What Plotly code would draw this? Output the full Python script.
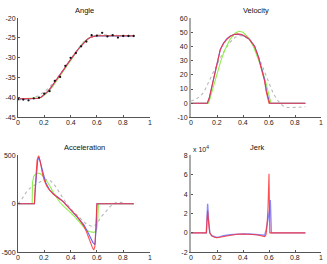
import plotly.graph_objects as go

# ---------------- data ----------------
x_ticks = [0, 0.2, 0.4, 0.6, 0.8, 1]
x_tick_labels = ["0", "0.2", "0.4", "0.6", "0.8", "1"]

# Angle: measured points (black dots)
t_meas = [0, 0.04, 0.08, 0.12, 0.16, 0.20, 0.24, 0.28, 0.32, 0.36, 0.40, 0.44,
          0.48, 0.52, 0.56, 0.60, 0.64, 0.68, 0.72, 0.76, 0.80, 0.84, 0.88]
angle_meas = [-40.4, -40.5, -40.7, -40.2, -40.0, -39.0, -38.4, -35.8, -34.8, -32.0,
              -30.0, -28.8, -27.1, -25.9, -24.3, -24.4, -23.7, -24.6, -24.3, -24.9,
              -24.5, -24.5, -24.5]

t_ang = [0, 0.125, 0.15, 0.175, 0.2, 0.225, 0.25, 0.275, 0.3, 0.325, 0.35, 0.375,
         0.4, 0.425, 0.45, 0.475, 0.5, 0.525, 0.55, 0.575, 0.6, 0.88]
angle_red = [-40.3, -40.3, -40.2, -39.9, -39.3, -38.5, -37.5, -36.4, -35.25, -34.05,
             -32.85, -31.6, -30.4, -29.25, -28.15, -27.15, -26.2, -25.4, -24.85,
             -24.55, -24.45, -24.45]
angle_blue = [-40.35, -40.35, -40.25, -39.9, -39.3, -38.5, -37.5, -36.4, -35.2, -34.0,
              -32.8, -31.6, -30.4, -29.25, -28.15, -27.15, -26.2, -25.4, -24.85,
              -24.55, -24.5, -24.5]
t_ang_g = [0, 0.135, 0.16, 0.185, 0.21, 0.235, 0.26, 0.285, 0.31, 0.335, 0.36, 0.385,
           0.41, 0.435, 0.46, 0.485, 0.51, 0.535, 0.56, 0.585, 0.615, 0.88]
angle_green = [-40.3, -40.3, -40.15, -39.8, -39.2, -38.4, -37.4, -36.2, -35.0, -33.8,
               -32.5, -31.2, -29.9, -28.7, -27.6, -26.6, -25.75, -25.1, -24.7,
               -24.5, -24.45, -24.45]
t_ang_d = [0, 0.05, 0.1, 0.15, 0.2, 0.25, 0.3, 0.35, 0.4, 0.45, 0.5, 0.55, 0.6,
           0.65, 0.7, 0.75, 0.8, 0.88]
angle_dot = [-40.6, -40.5, -40.3, -39.6, -38.6, -37.0, -35.0, -32.7, -30.3, -28.0,
             -26.0, -24.8, -24.3, -24.2, -24.3, -24.4, -24.45, -24.5]

# Velocity
t_vel_r = [0, 0.12, 0.125, 0.14, 0.15, 0.16, 0.177, 0.2, 0.225, 0.25, 0.275, 0.3,
           0.33, 0.36, 0.39, 0.42, 0.45, 0.489, 0.5, 0.52, 0.54, 0.553, 0.565,
           0.58, 0.59, 0.6, 0.88]
vel_red = [0, 0, 0, 3.5, 7.5, 12, 20, 29, 37.5, 42, 45, 47, 48.4, 48.9, 48.5, 47,
           45, 40, 37, 32, 24.5, 20, 16, 7.5, 3, 0, 0]
t_vel_b = [0, 0.12, 0.125, 0.14, 0.15, 0.16, 0.177, 0.2, 0.225, 0.25, 0.275, 0.3,
           0.33, 0.355, 0.39, 0.42, 0.45, 0.489, 0.5, 0.52, 0.54, 0.553, 0.565,
           0.58, 0.595, 0.605, 0.88]
vel_blue = [0, 0, 0, 3.5, 7.5, 12.5, 20.5, 29.5, 38, 42.5, 45.3, 47.2, 48.4, 48.6,
            48.3, 46.9, 45, 40.3, 37.5, 32.5, 25.5, 21, 17, 9, 3, 0, 0]
t_vel_g = [0, 0.13, 0.135, 0.15, 0.17, 0.2, 0.23, 0.26, 0.3, 0.34, 0.37, 0.4, 0.44,
           0.48, 0.52, 0.55, 0.58, 0.6, 0.615, 0.88]
vel_green = [0, 0, 0, 4.5, 11, 21, 30, 37.5, 45, 49.5, 50.7, 50, 46.5, 40, 31, 23,
             13, 5.5, 0, 0]
t_vel_d = [0, 0.03, 0.067, 0.1, 0.118, 0.15, 0.169, 0.2, 0.22, 0.26, 0.297, 0.34,
           0.374, 0.41, 0.451, 0.49, 0.528, 0.57, 0.605, 0.63, 0.656, 0.68, 0.708,
           0.74, 0.77, 0.8, 0.84, 0.88]
vel_dot = [1.6, 2.5, 4.6, 8, 11.5, 17.5, 21.9, 28, 31, 37.5, 42.7, 46.5, 47.7, 47,
           45, 39.5, 31, 20.5, 12.7, 7.5, 3.4, 0.5, -1.9, -2.9, -3.1, -3, -2.7, -2.5]

# Acceleration
t_acc_r = [0, 0.125, 0.13, 0.135, 0.145, 0.157, 0.17, 0.187, 0.2, 0.218, 0.24, 0.268,
           0.3, 0.318, 0.35, 0.369, 0.4, 0.42, 0.45, 0.47, 0.5, 0.52, 0.54, 0.553,
           0.565, 0.576, 0.585, 0.592, 0.597, 0.6, 0.88]
acc_red = [0, 0, 150, 300, 450, 500, 430, 303, 240, 185, 140, 101, 65, 50, 15, -17,
           -60, -85, -130, -169, -230, -287, -350, -404, -450, -478, -440, -220, 0,
           0, 0]
t_acc_b = [0, 0.125, 0.13, 0.14, 0.15, 0.16, 0.175, 0.19, 0.21, 0.24, 0.27, 0.3, 0.33,
           0.37, 0.4, 0.44, 0.47, 0.5, 0.53, 0.555, 0.57, 0.585, 0.595, 0.6, 0.88]
acc_blue = [0, 0, 120, 330, 450, 480, 400, 300, 220, 145, 100, 70, 40, -15, -60, -115,
            -160, -215, -290, -360, -400, -420, -250, 0, 0]
t_acc_g = [0, 0.108, 0.11, 0.12, 0.135, 0.15, 0.17, 0.19, 0.218, 0.24, 0.268, 0.3,
           0.318, 0.35, 0.369, 0.4, 0.42, 0.45, 0.47, 0.5, 0.52, 0.54, 0.557, 0.575,
           0.59, 0.6, 0.607, 0.612, 0.88]
acc_green = [0, 0, 220, 285, 310, 318, 310, 285, 235, 190, 118, 50, 16, -30, -51, -92,
             -118, -165, -202, -245, -270, -285, -293, -295, -286, -250, -150, 0, 0]
t_acc_d = [0, 0.03, 0.061, 0.09, 0.116, 0.15, 0.18, 0.218, 0.25, 0.28, 0.32, 0.37,
           0.42, 0.47, 0.52, 0.56, 0.6, 0.622, 0.65, 0.673, 0.7, 0.724, 0.75, 0.78,
           0.82, 0.88]
acc_dot = [0, 50, 117, 160, 185, 215, 235, 250, 235, 190, 100, 0, -80, -150, -210,
           -232, -215, -152, -105, -68, -30, 0, 15, 15, 5, 0]

# Jerk (x 10^4)
t_jerk_r = [0, 0.118, 0.122, 0.128, 0.134, 0.144, 0.16, 0.18, 0.2, 0.22, 0.25, 0.297,
            0.35, 0.4, 0.45, 0.503, 0.53, 0.554, 0.567, 0.577, 0.585, 0.592, 0.597,
            0.6, 0.603, 0.606, 0.88]
jerk_red = [0, 0, 1.0, 2.3, 1.2, 0, -0.3, -0.45, -0.5, -0.45, -0.33, -0.22, -0.15,
            -0.12, -0.14, -0.2, -0.27, -0.35, -0.38, -0.2, 0.8, 2.5, 4.8, 6.1, 3.0,
            0, 0]
t_jerk_b = [0, 0.118, 0.122, 0.128, 0.134, 0.145, 0.16, 0.18, 0.2, 0.22, 0.25, 0.3,
            0.35, 0.4, 0.45, 0.5, 0.53, 0.555, 0.567, 0.578, 0.59, 0.6, 0.606, 0.61,
            0.614, 0.618, 0.88]
jerk_blue = [0, 0, 1.2, 3.0, 1.5, 0, -0.3, -0.42, -0.48, -0.42, -0.3, -0.2, -0.13,
             -0.1, -0.12, -0.18, -0.25, -0.3, -0.25, 0.3, 1.3, 1.8, 2.5, 3.4, 1.5, 0,
             0]

y_ticks_angle = [-45, -40, -35, -30, -25, -20]
y_ticks_vel = [-10, 0, 10, 20, 30, 40, 50, 60]
y_ticks_acc = [-500, 0, 500]
y_ticks_jerk = [-2, 0, 2, 4, 6, 8]

# ---------------- styling ----------------
RED = "#ff3030"
BLUE = "#6464ff"
GREEN = "#90f050"
GRAY = "#b8b8b8"
FONT = "Liberation Sans, Arial, sans-serif"
W, H = 327, 264

fig = go.Figure()


def line(x, y, color, ax, dash="solid", width=1.1, opacity=1.0):
    fig.add_trace(go.Scatter(x=x, y=y, mode="lines", xaxis=ax[0], yaxis=ax[1],
                             line=dict(color=color, width=width, dash=dash),
                             opacity=opacity, showlegend=False, hoverinfo="skip"))


a1 = ("x", "y")
a2 = ("x2", "y2")
a3 = ("x3", "y3")
a4 = ("x4", "y4")

# Angle
line(t_ang_d, angle_dot, GRAY, a1, dash="dot")
line(t_ang_g, angle_green, GREEN, a1)
line(t_ang, angle_blue, BLUE, a1)
line(t_ang, angle_red, RED, a1, opacity=0.8)
fig.add_trace(go.Scatter(x=t_meas, y=angle_meas, mode="markers", xaxis="x", yaxis="y",
                         marker=dict(color="#111", size=2.3), showlegend=False))

# Velocity
line(t_vel_d, vel_dot, GRAY, a2, dash="dot")
line(t_vel_g, vel_green, GREEN, a2)
line(t_vel_b, vel_blue, BLUE, a2)
line(t_vel_r, vel_red, RED, a2, opacity=0.85)

# Acceleration
line(t_acc_d, acc_dot, GRAY, a3, dash="dot")
line(t_acc_g, acc_green, GREEN, a3)
line(t_acc_b, acc_blue, BLUE, a3)
line(t_acc_r, acc_red, RED, a3, opacity=0.85)

# Jerk
line(t_jerk_b, jerk_blue, BLUE, a4, width=1.4, opacity=0.75)
line(t_jerk_r, jerk_red, RED, a4, opacity=0.85)


def px_x(p):
    return p / W


def px_y(p):
    return 1 - p / H


def xaxis(dom, anchor):
    return dict(domain=dom, anchor=anchor, range=[0, 1], tickvals=x_ticks,
                showticklabels=False, showgrid=False, zeroline=False,
                showline=True, linecolor="#555", linewidth=1, ticks="inside",
                ticklen=2, tickcolor="#555", fixedrange=True)


def yaxis(dom, anchor, rng, ticks, lc="#555", lw=1):
    return dict(domain=dom, anchor=anchor, range=rng, tickvals=ticks,
                ticktext=[str(v) for v in ticks], showgrid=False, zeroline=False,
                showline=True, linecolor=lc, linewidth=lw, ticks="inside",
                ticklen=2, tickcolor="#555", tickfont=dict(size=7, color="#222"),
                fixedrange=True)


xd_left = [px_x(18), px_x(149.5)]
xd_right = [px_x(191), px_x(321)]
top_bottom_px = 116.5
bot_bottom_px = 255
yd_top = [px_y(top_bottom_px), px_y(14.5)]
yd_bot = [px_y(bot_bottom_px), px_y(155.5)]

fig.update_layout(
    width=W, height=H,
    margin=dict(l=0, r=0, t=0, b=0),
    paper_bgcolor="white", plot_bgcolor="white",
    font=dict(family=FONT, size=7, color="#222"),
    xaxis=xaxis(xd_left, "y"),
    yaxis=yaxis(yd_top, "x", [-45, -20], y_ticks_angle),
    xaxis2=xaxis(xd_right, "y2"),
    yaxis2=yaxis(yd_top, "x2", [-10, 60], y_ticks_vel, lc="#aaa", lw=2),
    xaxis3=xaxis(xd_left, "y3"),
    yaxis3=yaxis(yd_bot, "x3", [-500, 500], y_ticks_acc),
    xaxis4=xaxis(xd_right, "y4"),
    yaxis4=yaxis(yd_bot, "x4", [-2, 8], y_ticks_jerk, lc="#aaa", lw=2),
    showlegend=False,
)

# x tick labels placed just below each axis line (MATLAB-like spacing)
for xref, ybase in (("x", top_bottom_px), ("x2", top_bottom_px),
                    ("x3", bot_bottom_px), ("x4", bot_bottom_px)):
    for v, lab in zip(x_ticks, x_tick_labels):
        fig.add_annotation(text=lab, x=v, xref=xref, y=px_y(ybase + 0.5), yref="paper",
                           showarrow=False, xanchor="center", yanchor="top",
                           font=dict(size=7, color="#222", family=FONT),
                           borderpad=0)

titles = [("Angle", 84, 7), ("Velocity", 256, 7), ("Acceleration", 84, 147),
          ("Jerk", 257, 147)]
for txt, x, y in titles:
    fig.add_annotation(text=txt, x=px_x(x), y=px_y(y), xref="paper", yref="paper",
                       showarrow=False, xanchor="center", yanchor="middle",
                       font=dict(size=7.5, color="#111", family=FONT))
fig.add_annotation(text="x 10<sup>4</sup>", x=px_x(191), y=px_y(149), xref="paper",
                   yref="paper", showarrow=False, xanchor="left", yanchor="middle",
                   font=dict(size=7, color="#222", family=FONT))

fig.write_html("out.html", config={"displayModeBar": False},
               post_script="document.body.style.margin='0';"
                           "document.body.style.padding='0';"
                           "document.body.style.overflow='hidden';")
